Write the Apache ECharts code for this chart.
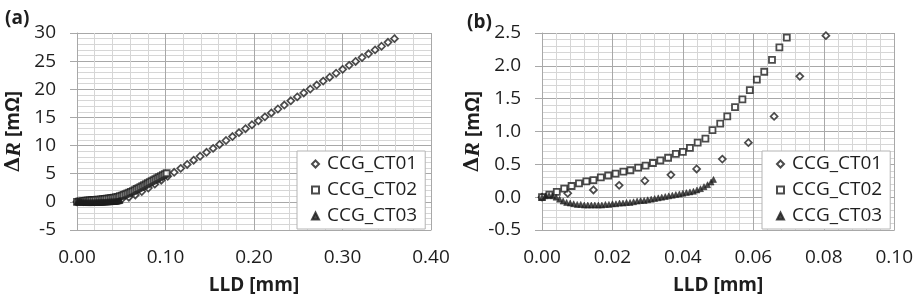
<!DOCTYPE html>
<html>
<head>
<meta charset="utf-8">
<script src="https://cdn.jsdelivr.net/npm/echarts@6/dist/echarts.min.js"></script>
<style>
  html, body { margin: 0; padding: 0; background: #fff; }
  #chart { width: 916px; height: 304px; }
</style>
</head>
<body>
<div id="chart"></div>
<script>
// series names (legend)
var seriesNames = ['CCG_CT01', 'CCG_CT02', 'CCG_CT03'];

// CCG_CT01 : LLD [mm] / dR [mOhm]
var ct01Lld = [0.0000, 0.0073, 0.0146, 0.0219, 0.0292, 0.0366, 0.0439, 0.0512, 0.0586, 0.0659,
               0.0732, 0.0806, 0.0879, 0.0952, 0.1025, 0.1098, 0.1172, 0.1245, 0.1318, 0.1391,
               0.1464, 0.1538, 0.1611, 0.1684, 0.1757, 0.1830, 0.1904, 0.1977, 0.2050, 0.2123,
               0.2196, 0.2270, 0.2343, 0.2416, 0.2489, 0.2562, 0.2636, 0.2709, 0.2782, 0.2855,
               0.2928, 0.3002, 0.3075, 0.3148, 0.3221, 0.3294, 0.3368, 0.3441, 0.3514, 0.3587];
var ct01Dr  = [0.00, 0.06, 0.11, 0.18, 0.25, 0.34, 0.43, 0.58, 0.83, 1.23,
               1.84, 2.46, 3.15, 3.85, 4.55, 5.25, 5.95, 6.65, 7.40, 8.10,
               8.80, 9.50, 10.20, 10.90, 11.60, 12.30, 13.00, 13.70, 14.40, 15.10,
               15.80, 16.50, 17.20, 17.95, 18.65, 19.35, 20.05, 20.75, 21.45, 22.15,
               22.85, 23.55, 24.25, 24.95, 25.65, 26.30, 27.00, 27.65, 28.35, 29.00];

// CCG_CT02
var ct02Lld = [0.0000, 0.0021, 0.0042, 0.0063, 0.0084, 0.0105, 0.0126, 0.0146, 0.0167, 0.0188,
               0.0209, 0.0231, 0.0251, 0.0273, 0.0294, 0.0315, 0.0336, 0.0358, 0.0380, 0.0400,
               0.0420, 0.0442, 0.0464, 0.0484, 0.0506, 0.0526, 0.0548, 0.0569, 0.0590, 0.0610,
               0.0631, 0.0653, 0.0674, 0.0695, 0.0716, 0.0737, 0.0758, 0.0780, 0.0801, 0.0822,
               0.0843, 0.0865, 0.0886, 0.0907, 0.0928, 0.0950, 0.0971, 0.0992, 0.1013];
var ct02Dr  = [0.00, 0.04, 0.08, 0.13, 0.17, 0.21, 0.24, 0.26, 0.30, 0.33,
               0.36, 0.39, 0.41, 0.45, 0.48, 0.52, 0.56, 0.60, 0.66, 0.69,
               0.75, 0.83, 0.89, 1.02, 1.12, 1.23, 1.37, 1.49, 1.63, 1.79,
               1.91, 2.09, 2.28, 2.43, 2.60, 2.77, 2.95, 3.13, 3.31, 3.49,
               3.67, 3.85, 4.03, 4.21, 4.39, 4.57, 4.75, 4.92, 5.08];

// CCG_CT03
var ct03Lld = [0.000, 0.001, 0.002, 0.003, 0.004, 0.005, 0.006, 0.007, 0.008, 0.009,
               0.010, 0.011, 0.012, 0.013, 0.014, 0.015, 0.016, 0.017, 0.018, 0.019,
               0.020, 0.021, 0.022, 0.023, 0.024, 0.025, 0.026, 0.027, 0.028, 0.029,
               0.030, 0.031, 0.032, 0.033, 0.034, 0.035, 0.036, 0.037, 0.038, 0.039,
               0.040, 0.041, 0.042, 0.043, 0.044, 0.045, 0.046, 0.047, 0.048, 0.0487];
var ct03Dr  = [0.00, 0.02, 0.03, 0.02, 0.00, -0.03, -0.06, -0.08, -0.09, -0.10,
               -0.11, -0.11, -0.12, -0.12, -0.12, -0.12, -0.12, -0.12, -0.11, -0.11,
               -0.10, -0.10, -0.09, -0.09, -0.08, -0.08, -0.07, -0.06, -0.05, -0.05,
               -0.04, -0.03, -0.02, -0.01, 0.00, 0.01, 0.02, 0.03, 0.04, 0.05,
               0.06, 0.07, 0.08, 0.09, 0.11, 0.13, 0.16, 0.19, 0.23, 0.27];

function pairs(xs, ys) {
  return xs.map(function (x, i) { return [x, ys[i]]; });
}

var FONT = '"Open Sans", sans-serif';
var INK = '#1e1e1e';
var majorGrid = '#a8a8a8';
var minorGrid = '#d6d6d6';

function makeX(gridIndex, max, interval) {
  return {
    type: 'value', gridIndex: gridIndex, min: 0, max: max, interval: interval,
    name: 'LLD [mm]', nameLocation: 'middle', nameGap: 46,
    nameTextStyle: { fontFamily: FONT, fontSize: 19, fontWeight: 'bold', color: INK },
    axisLine: { onZero: false, lineStyle: { color: majorGrid } },
    axisTick: { show: false },
    axisLabel: { fontFamily: FONT, fontSize: 19, color: INK, margin: 18,
                 formatter: function (v) { return v.toFixed(2); } },
    splitLine: { show: true, lineStyle: { color: majorGrid } },
    minorTick: { show: false, splitNumber: 5 },
    minorSplitLine: { show: true, lineStyle: { color: minorGrid } }
  };
}

function makeY(gridIndex, min, max, interval, digits, gap) {
  return {
    type: 'value', gridIndex: gridIndex, min: min, max: max, interval: interval,
    name: '{d|Δ}{r|R}{u| [mΩ]}', nameLocation: 'middle', nameGap: gap, nameRotate: 90,
    nameTextStyle: {
      rich: {
        d: { fontFamily: '"DejaVu Serif", serif', fontSize: 20, fontWeight: 'bold', color: INK },
        r: { fontFamily: '"Liberation Serif", serif', fontSize: 22, fontWeight: 'bold', fontStyle: 'italic', color: INK },
        u: { fontFamily: FONT, fontSize: 19, fontWeight: 'bold', color: INK }
      }
    },
    axisLine: { show: true, lineStyle: { color: majorGrid } },
    axisTick: { show: true, length: 7, lineStyle: { color: majorGrid } },
    axisLabel: { fontFamily: FONT, fontSize: 19, color: INK, margin: 21,
                 formatter: function (v) { return digits ? v.toFixed(digits) : String(v); } },
    splitLine: { show: true, lineStyle: { color: majorGrid } },
    minorTick: { show: false, splitNumber: 5 },
    minorSplitLine: { show: true, lineStyle: { color: minorGrid } }
  };
}

var styles = [
  { symbol: 'diamond', symbolSize: 7, itemStyle: { color: '#fff', borderColor: INK, borderWidth: 1.7 } },
  { symbol: 'rect', symbolSize: 6, itemStyle: { color: '#fff', borderColor: INK, borderWidth: 1.8 } },
  { symbol: 'triangle', symbolSize: 6, itemStyle: { color: INK, borderColor: INK, borderWidth: 0.6 } }
];
var dataSets = [pairs(ct01Lld, ct01Dr), pairs(ct02Lld, ct02Dr), pairs(ct03Lld, ct03Dr)];

var series = [];
[0, 1].forEach(function (g) {
  seriesNames.forEach(function (name, i) {
    series.push({
      name: name, type: 'scatter', xAxisIndex: g, yAxisIndex: g, clip: true,
      symbol: styles[i].symbol, symbolSize: styles[i].symbolSize,
      itemStyle: styles[i].itemStyle, data: dataSets[i],
      emphasis: { disabled: true }, animation: false
    });
  });
});

function makeLegend(left) {
  return {
    data: seriesNames, orient: 'vertical', left: left, top: 151,
    backgroundColor: '#fff', borderColor: '#b4b4b4', borderWidth: 1,
    padding: [3, 8, 3, 14], itemGap: 6, itemWidth: 7, itemHeight: 7,
    selectedMode: false,
    textStyle: { fontFamily: FONT, fontSize: 19, color: INK, lineHeight: 20, padding: [0, 0, 0, 3] }
  };
}

var chart = echarts.init(document.getElementById('chart'), null, { renderer: 'canvas' });
chart.setOption({
  animation: false,
  backgroundColor: '#fff',
  title: [
    { text: '(a)', left: 0, top: 4, textStyle: { fontFamily: FONT, fontSize: 19, fontWeight: 'bold', color: INK } },
    { text: '(b)', left: 462, top: 8, textStyle: { fontFamily: FONT, fontSize: 19, fontWeight: 'bold', color: INK } }
  ],
  grid: [
    { left: 77, top: 33, width: 354, height: 197 },
    { left: 542, top: 33, width: 353, height: 197 }
  ],
  xAxis: [makeX(0, 0.4, 0.1), makeX(1, 0.1, 0.02)],
  yAxis: [makeY(0, -5, 30, 5, 0, 52), makeY(1, -0.5, 2.5, 0.5, 1, 57)],
  legend: [makeLegend(297), makeLegend(762)],
  series: series
});
</script>
</body>
</html>
